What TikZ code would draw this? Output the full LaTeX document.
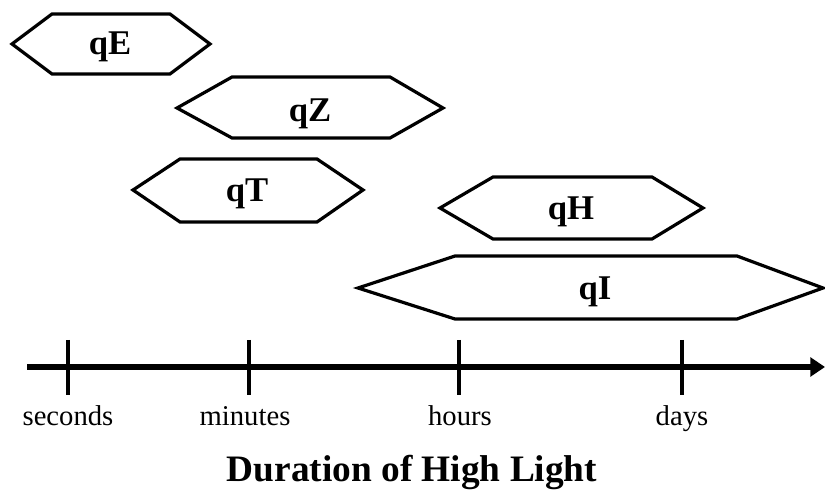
\documentclass[tikz,border=0pt]{standalone}
\usepackage{fontspec}
\setmainfont{Liberation Serif}
\usetikzlibrary{arrows.meta}
\begin{document}
\begin{tikzpicture}[x=0.75pt,y=-0.75pt,
  hexa/.style={draw=black,line width=2.4pt,line join=miter},
  qlabel/.style={font=\bfseries\fontsize{26}{28}\selectfont,inner sep=0pt,anchor=base},
  tlabel/.style={font=\fontsize{21.5}{24}\selectfont,inner sep=0pt,anchor=base},
  tickline/.style={line width=2.4pt},
  axisline/.style={line width=4.5pt,-{Triangle[length=11pt,width=14pt]}}]
\useasboundingbox (0,0) rectangle (825,491);
% hexagons
\draw[hexa] (12,44) -- (52,14) -- (170,14) -- (210,44) -- (170,74) -- (52,74) -- cycle;
\node[qlabel] (qE) at (110,55) {qE};
\draw[hexa] (177,108) -- (232,77) -- (390,77) -- (443,108) -- (390,138) -- (232,138) -- cycle;
\node[qlabel] (qZ) at (310,122) {qZ};
\draw[hexa] (133,190) -- (180,159) -- (317,159) -- (363,190) -- (317,222) -- (180,222) -- cycle;
\node[qlabel] (qT) at (247,202) {qT};
\draw[hexa] (440,208) -- (493,177) -- (652,177) -- (703,208) -- (652,239) -- (493,239) -- cycle;
\node[qlabel] (qH) at (571,220) {qH};
\draw[hexa] (358,288) -- (455,256) -- (737,256) -- (823,288) -- (737,319) -- (455,319) -- cycle;
\node[qlabel] (qI) at (595,300) {qI};
% axis
\coordinate (a0) at (27,367);
\coordinate (a1) at (825,367);
\draw[axisline] (a0) -- (a1);
\foreach \n/\x in {s/68,m/249,h/459,d/682}{
  \coordinate (t\n a) at (\x,340);
  \coordinate (t\n b) at (\x,395);
  \draw[tickline] (t\n a) -- (t\n b);
}
\node[tlabel] (ls) at (68,426) {seconds};
\node[tlabel] (lm) at (245,426) {minutes};
\node[tlabel] (lh) at (460,426) {hours};
\node[tlabel] (ld) at (682,426) {days};
\node[font=\bfseries\fontsize{28}{30}\selectfont,inner sep=0pt,anchor=base] (title) at (412,482) {Duration of High Light};
\end{tikzpicture}
\end{document}
